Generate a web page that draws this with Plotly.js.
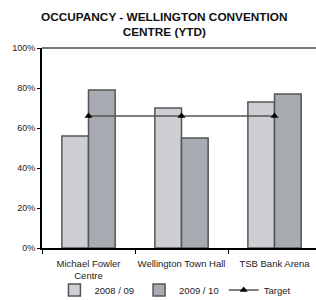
<!DOCTYPE html>
<html>
<head>
<meta charset="utf-8">
<script src="https://cdn.plot.ly/plotly-3.0.1.min.js"></script>
<style>html,body{margin:0;padding:0;background:#fff;}#chart{width:316px;height:300px;}</style>
</head>
<body>
<div id="chart"></div>
<script>
var categories = ["Michael Fowler<br>Centre", "Wellington Town Hall", "TSB Bank Arena"];
var occ2008 = [56, 70, 73];
var occ2009 = [79, 55, 77];
var target = [66, 66, 66];
var yTickVals = [0, 20, 40, 60, 80, 100];
var yTickText = ["0%", "20%", "40%", "60%", "80%", "100%"];

var font = "Liberation Sans, Arial, sans-serif";
var traces = [
  {type: "bar", name: "2008 / 09", x: categories, y: occ2008,
   marker: {color: "#cdcfd4", line: {color: "#555555", width: 1.5}}},
  {type: "bar", name: "2009 / 10", x: categories, y: occ2009,
   marker: {color: "#a7abb2", line: {color: "#555555", width: 1.5}}},
  {type: "scatter", mode: "lines+markers", name: "Target", x: categories, y: target,
   line: {color: "#555555", width: 1.5},
   marker: {symbol: "triangle-up", color: "#000000", size: 7}}
];
var layout = {
  width: 316, height: 300,
  margin: {l: 42, r: 0, t: 48, b: 52, autoexpand: false},
  paper_bgcolor: "#ffffff", plot_bgcolor: "#ffffff",
  font: {family: font, size: 9.5, color: "#222222"},
  title: {text: "<b>OCCUPANCY - WELLINGTON CONVENTION<br>CENTRE (YTD)</b>",
          font: {family: font, size: 11.8, color: "#111111"},
          x: 0.52, xanchor: "center", y: 0.93, yanchor: "middle"},
  barmode: "group", bargap: 0.427, bargroupgap: 0,
  showlegend: true,
  legend: {orientation: "h", x: 0.487, xanchor: "center", y: -0.21, yanchor: "middle",
           bgcolor: "rgba(0,0,0,0)",
           font: {family: font, size: 9.5, color: "#222222"}, itemwidth: 30,
           traceorder: "normal"},
  xaxis: {range: [-0.5, 2.446], showline: true, linecolor: "#000000", linewidth: 1.5,
          ticks: "outside", tickson: "boundaries", ticklen: 4, tickcolor: "#000000",
          tickangle: 0, automargin: false, ticklabelstandoff: 6,
          showgrid: false, zeroline: false, fixedrange: true,
          tickfont: {family: font, size: 9.5, color: "#222222"}},
  yaxis: {range: [0, 100], tickvals: yTickVals, ticktext: yTickText, showline: true,
          linecolor: "#000000", linewidth: 2, ticks: "outside", ticklen: 3, tickcolor: "#000000",
          showgrid: false, zeroline: false, fixedrange: true,
          tickfont: {family: font, size: 9, color: "#222222"}},
  shapes: [{type: "line", xref: "paper", yref: "paper", x0: 0, x1: 1, y0: 1, y1: 1,
            line: {color: "#777777", width: 2}}]
};
Plotly.newPlot("chart", traces, layout, {displayModeBar: false, staticPlot: true});
</script>
</body>
</html>
